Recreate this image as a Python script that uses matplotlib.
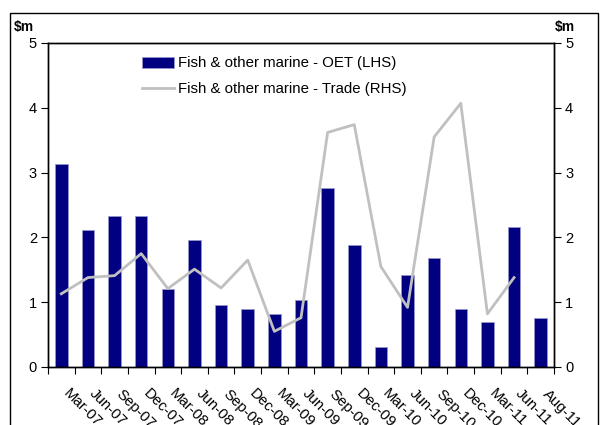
import numpy as np
import matplotlib.pyplot as plt
from matplotlib.patches import Rectangle

plt.rcParams['font.family'] = ['Liberation Sans', 'DejaVu Sans']

# data
quarters = ['Mar-07', 'Jun-07', 'Sep-07', 'Dec-07', 'Mar-08', 'Jun-08', 'Sep-08',
            'Dec-08', 'Mar-09', 'Jun-09', 'Sep-09', 'Dec-09', 'Mar-10', 'Jun-10',
            'Sep-10', 'Dec-10', 'Mar-11', 'Jun-11', 'Aug-11']
oet = [3.14, 2.11, 2.33, 2.33, 1.21, 1.96, 0.95, 0.90, 0.82, 1.04,
       2.77, 1.89, 0.31, 1.42, 1.68, 0.89, 0.70, 2.16, 0.76]
trade = [1.13, 1.38, 1.41, 1.75, 1.21, 1.51, 1.22, 1.65, 0.55, 0.76,
         3.62, 3.74, 1.55, 0.92, 3.55, 4.07, 0.82, 1.38]

fig = plt.figure(figsize=(6.01, 4.25), dpi=100)
ax = fig.add_axes([48/601, 1-367/425, 506/601, 324/425])
ax2 = ax.twinx()

x = np.arange(len(quarters))
b = ax.bar(x, oet, width=0.47, color='#000080', edgecolor='#9999cc', linewidth=0.5,
           label='Fish & other marine - OET (LHS)')
l, = ax2.plot(np.arange(len(trade)), trade, color='#c0c0c0', lw=2,
              label='Fish & other marine - Trade (RHS)')

for a in (ax, ax2):
    a.set_ylim(0, 5)
    a.set_yticks(range(6))
    a.set_xlim(-0.5, len(quarters) - 0.5)
    for s in a.spines.values():
        s.set_linewidth(1)
        s.set_color('black')
ax.tick_params(axis='y', direction='out', length=5, labelsize=10.5, pad=3)
ax2.tick_params(axis='y', direction='out', length=5, labelsize=10.5, pad=3)

ax.set_xticks(list(x - 0.5) + [len(quarters) - 0.5])
ax.set_xticklabels([])
ax.tick_params(axis='x', direction='out', length=5)
for i, q in enumerate(quarters):
    ax.text(i + 0.15, -0.38, q, rotation=-45, rotation_mode='anchor',
            ha='left', va='center', fontsize=10.8, transform=ax.transData, clip_on=False)

fig.text(24/601, 1-27/425, '$m', fontsize=10, fontweight='bold', ha='center', va='center')
fig.text(565/601, 1-27/425, '$m', fontsize=10, fontweight='bold', ha='center', va='center')

ax.legend([b, l], [b.get_label(), l.get_label()], loc='upper left',
          bbox_to_anchor=(0.16, 1.0), frameon=False, fontsize=10.8,
          handlelength=2.1, handletextpad=0.3, labelspacing=0.75)

fig.add_artist(Rectangle((10/601, -0.1), 588/601, 1.1 - 13/425, transform=fig.transFigure,
                         fill=False, edgecolor='black', lw=1, clip_on=False))

fig.savefig('out.png', dpi=100)
